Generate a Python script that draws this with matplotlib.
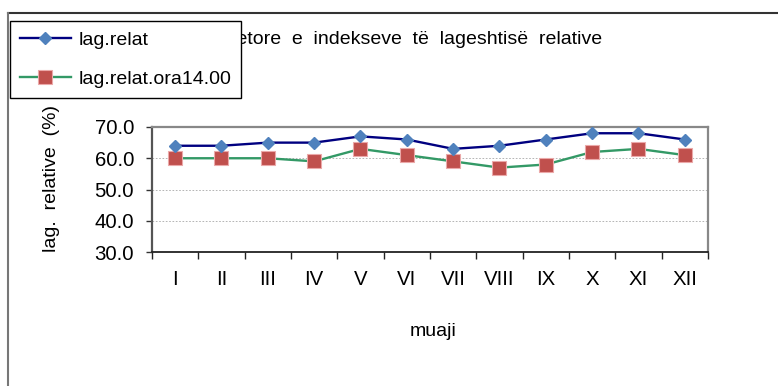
import matplotlib
matplotlib.use("Agg")
import matplotlib.pyplot as plt
from matplotlib.lines import Line2D

plt.rcParams["font.family"] = ["Liberation Sans", "DejaVu Sans"]
plt.rcParams["font.size"] = 14

# monthly relative humidity (%)
months = ["I", "II", "III", "IV", "V", "VI", "VII", "VIII", "IX", "X", "XI", "XII"]
lag_relat = [64, 64, 65, 65, 67, 66, 63, 64, 66, 68, 68, 66]
lag_relat_14 = [60, 60, 60, 59, 63, 61, 59, 57, 58, 62, 63, 61]
y_ticks = [30, 40, 50, 60, 70]

title = "Ecuria  vjetore  e  indekseve  të  lageshtisë  relative"

fig = plt.figure(figsize=(7.78, 3.86), dpi=100)
ax = fig.add_axes([152 / 778, 1 - 252 / 386, 556 / 778, 125 / 386])

x = list(range(len(months)))
ax.plot(x, lag_relat, color="#000080", lw=1.7, marker="D", ms=6,
        mfc="#4F81BD", mec="#4F81BD", label="lag.relat", zorder=4)
ax.plot(x, lag_relat_14, color="#339966", lw=1.7, marker="s", ms=10,
        mfc="#C0504D", mec="#EBA9A9", mew=0.8, label="lag.relat.ora14.00",
        zorder=3)

ax.set_xlim(-0.5, len(months) - 0.5)
ax.set_ylim(30, 70)
ax.set_yticks(y_ticks)
ax.set_yticklabels([f"{v:.1f}" for v in y_ticks], fontsize=14.7)
ax.tick_params(axis="y", direction="out", length=4, width=1, color="#333333", pad=9)

# category boundaries as major ticks, labels on minor ticks at centres
ax.set_xticks([i - 0.5 for i in range(len(months) + 1)])
ax.set_xticklabels([])
ax.tick_params(axis="x", which="major", direction="out", length=5, width=1, color="#222222")
ax.set_xticks(x, minor=True)
ax.set_xticklabels(months, minor=True, fontsize=14.7)
ax.tick_params(axis="x", which="minor", length=0, pad=13)

for v in y_ticks[1:-1]:
    ax.axhline(v, color="#A8A8A8", lw=0.6, ls=(0, (2, 2)), zorder=1)

for side in ["top", "right"]:
    ax.spines[side].set_color("#888888")
    ax.spines[side].set_linewidth(1.6)
ax.spines["left"].set_color("#555555")
ax.spines["left"].set_linewidth(1.6)
ax.spines["bottom"].set_color("#222222")
ax.spines["bottom"].set_linewidth(1.3)

ax.set_ylabel("lag.  relative  (%)")
ax.yaxis.set_label_coords(-0.165, 0.59)
ax.set_xlabel("muaji")
ax.xaxis.set_label_coords(0.505, -0.57)

fig.text(602 / 778, 1 - 40 / 386, title, ha="right", va="center", fontsize=14)

leg = fig.legend(loc="upper left", bbox_to_anchor=(10 / 778, 1 - 21 / 386),
                 borderaxespad=0, fancybox=False, framealpha=1,
                 edgecolor="black", handlelength=2.6, handletextpad=0.4,
                 labelspacing=1.1, borderpad=0.52)
leg.get_frame().set_linewidth(1.0)

# outer chart border (top and left only, the rest is cropped)
fig.add_artist(Line2D([8 / 778, 1], [1 - 13 / 386] * 2, color="#333333", lw=1.5))
fig.add_artist(Line2D([8 / 778] * 2, [0, 1 - 13 / 386], color="#777777", lw=1.5))

fig.savefig("out.png", dpi=100)
